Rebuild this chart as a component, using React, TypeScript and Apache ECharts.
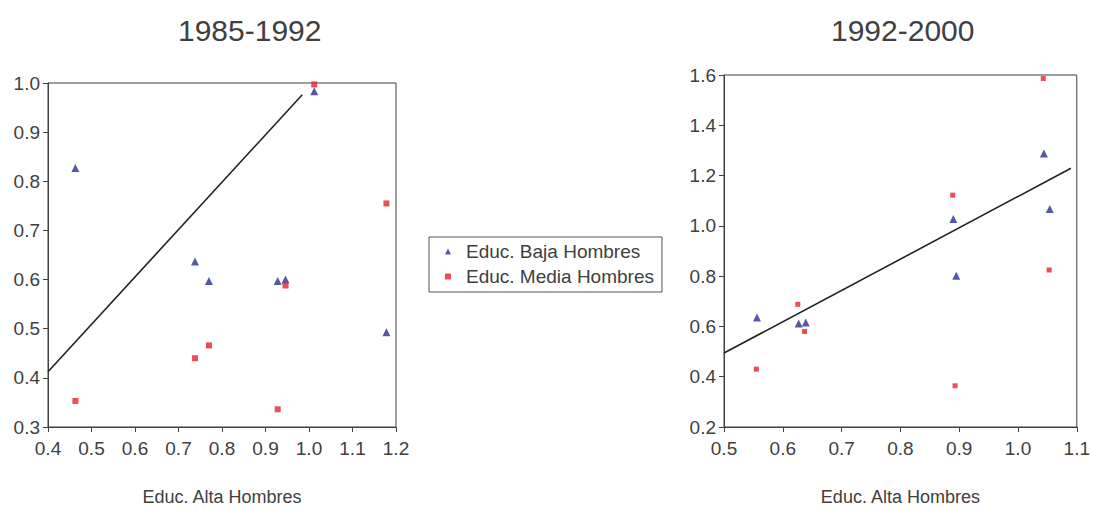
import React, { useEffect, useRef } from "react";
import * as echarts from "echarts";

// Panel titles
const panelTitles = ["1985-1992", "1992-2000"];
const xAxisName = "Educ. Alta Hombres";
const seriesNames = ["Educ. Baja Hombres", "Educ. Media Hombres"];

// 1985-1992 panel: [Educ. Alta, value]
const bajaLeft: [number, number][] = [
  [0.463, 0.827],
  [0.738, 0.637],
  [0.77, 0.597],
  [0.928, 0.597],
  [0.946, 0.6],
  [1.012, 0.983],
  [1.178, 0.493],
];
const mediaLeft: [number, number][] = [
  [0.463, 0.353],
  [0.738, 0.44],
  [0.77, 0.466],
  [0.928, 0.336],
  [0.946, 0.588],
  [1.012, 0.997],
  [1.178, 0.755],
];
const lineLeft: [number, number][] = [
  [0.4, 0.4125],
  [0.9845, 0.976],
];

// 1992-2000 panel
const bajaRight: [number, number][] = [
  [0.556, 0.636],
  [0.627, 0.612],
  [0.639, 0.616],
  [0.89, 1.027],
  [0.895, 0.802],
  [1.044, 1.288],
  [1.054, 1.067],
];
const mediaRight: [number, number][] = [
  [0.555, 0.43],
  [0.6255, 0.688],
  [0.637, 0.58],
  [0.889, 1.122],
  [0.893, 0.364],
  [1.043, 1.586],
  [1.053, 0.8245],
];
const lineRight: [number, number][] = [
  [0.5, 0.494],
  [1.09, 1.229],
];

const TEXT = "#404040";
const FRAME = "#404040";
const NAVY = "#2B2F8F";
const RED = "#E8202A";
const FONT = "'Liberation Sans', Arial, sans-serif";

export default function App() {
  const ref = useRef<HTMLDivElement>(null);
  useEffect(() => {
    if (!ref.current) return;
    const chart = echarts.init(ref.current, null, { renderer: "svg" });
    const fmt = (v: number) => v.toFixed(1);
    const axisCommon = {
      type: "value" as const,
      axisLine: { show: true, lineStyle: { color: FRAME, width: 1 } },
      axisTick: { show: true, length: 5, lineStyle: { color: FRAME } },
      axisLabel: { color: TEXT, fontSize: 19, fontFamily: FONT, formatter: fmt },
      splitLine: { show: false },
    };
    chart.setOption({
      animation: false,
      textStyle: { fontFamily: FONT },
      title: [
        {
          text: panelTitles[0],
          left: 173,
          top: 10,
          textStyle: { fontSize: 30, fontWeight: "normal", color: TEXT, fontFamily: FONT },
        },
        {
          text: panelTitles[1],
          left: 826,
          top: 10,
          textStyle: { fontSize: 30, fontWeight: "normal", color: TEXT, fontFamily: FONT },
        },
      ],
      legend: {
        orient: "vertical",
        left: 429,
        top: 237,
        data: [
          { name: seriesNames[0], icon: "triangle" },
          { name: seriesNames[1], icon: "rect" },
        ],
        borderColor: "#555",
        borderWidth: 1,
        padding: [5, 8, 6, 16],
        itemWidth: 6,
        itemHeight: 6,
        itemGap: 6,
        textStyle: {
          fontSize: 19,
          color: TEXT,
          fontFamily: FONT,
          lineHeight: 19,
          padding: [0, 0, 0, 10],
        },
      },
      grid: [
        { left: 48, top: 83, width: 348, height: 346, show: true, borderColor: FRAME, borderWidth: 1, backgroundColor: "#fff" },
        { left: 724, top: 75, width: 356, height: 356, show: true, borderColor: FRAME, borderWidth: 1, backgroundColor: "#fff" },
      ],
      xAxis: [
        {
          ...axisCommon,
          gridIndex: 0,
          min: 0.4,
          max: 1.2,
          interval: 0.1,
          name: xAxisName,
          nameLocation: "middle",
          nameGap: 61,
          nameTextStyle: { color: TEXT, fontSize: 18, fontFamily: FONT },
          axisLabel: { ...axisCommon.axisLabel, margin: 12 },
        },
        {
          ...axisCommon,
          gridIndex: 1,
          min: 0.5,
          max: 1.1,
          interval: 0.1,
          name: xAxisName,
          nameLocation: "middle",
          nameGap: 61,
          nameTextStyle: { color: TEXT, fontSize: 18, fontFamily: FONT },
          axisLabel: { ...axisCommon.axisLabel, margin: 12 },
        },
      ],
      yAxis: [
        {
          ...axisCommon,
          gridIndex: 0,
          min: 0.3,
          max: 1.0,
          interval: 0.1,
          axisLabel: { ...axisCommon.axisLabel, margin: 8 },
        },
        {
          ...axisCommon,
          gridIndex: 1,
          min: 0.2,
          max: 1.6,
          interval: 0.2,
          axisLabel: { ...axisCommon.axisLabel, margin: 8 },
        },
      ],
      series: [
        {
          name: seriesNames[0],
          type: "scatter",
          xAxisIndex: 0,
          yAxisIndex: 0,
          symbol: "triangle",
          symbolSize: 8,
          itemStyle: { color: NAVY },
          data: bajaLeft,
        },
        {
          name: seriesNames[1],
          type: "scatter",
          xAxisIndex: 0,
          yAxisIndex: 0,
          symbol: "rect",
          symbolSize: 6,
          itemStyle: { color: RED },
          data: mediaLeft,
        },
        {
          type: "line",
          xAxisIndex: 0,
          yAxisIndex: 0,
          symbol: "none",
          lineStyle: { color: "#222", width: 1.6 },
          data: lineLeft,
          silent: true,
        },
        {
          name: seriesNames[0],
          type: "scatter",
          xAxisIndex: 1,
          yAxisIndex: 1,
          symbol: "triangle",
          symbolSize: 8,
          itemStyle: { color: NAVY },
          data: bajaRight,
        },
        {
          name: seriesNames[1],
          type: "scatter",
          xAxisIndex: 1,
          yAxisIndex: 1,
          symbol: "rect",
          symbolSize: 5,
          itemStyle: { color: RED },
          data: mediaRight,
        },
        {
          type: "line",
          xAxisIndex: 1,
          yAxisIndex: 1,
          symbol: "none",
          lineStyle: { color: "#222", width: 1.6 },
          data: lineRight,
          silent: true,
        },
      ],
    });
    return () => chart.dispose();
  }, []);
  return (
    <div
      ref={ref}
      style={{ position: "fixed", left: 0, top: 0, width: 1093, height: 511, background: "#fff" }}
    />
  );
}
